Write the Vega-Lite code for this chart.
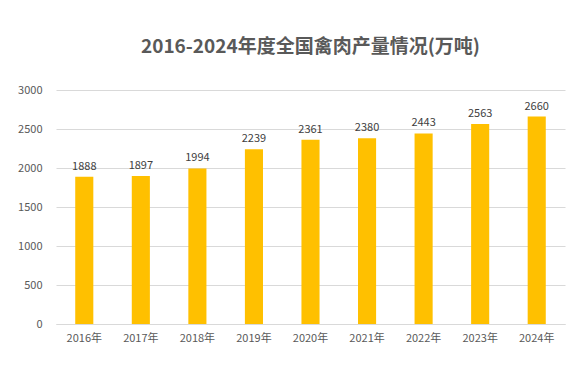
{
  "$schema": "https://vega.github.io/schema/vega-lite/v6.json",
  "autosize": {"type": "none"},
  "width": 509,
  "height": 234,
  "padding": {"left": 56, "top": 90, "right": 21, "bottom": 47},
  "background": "white",
  "title": {
    "text": "2016-2024年度全国禽肉产量情况(万吨)",
    "font": "Noto Sans CJK SC",
    "fontSize": 19,
    "fontWeight": "bold",
    "color": "#595959",
    "anchor": "middle",
    "offset": 27
  },
  "data": {
    "values": [
      {"year": "2016年", "value": 1888},
      {"year": "2017年", "value": 1897},
      {"year": "2018年", "value": 1994},
      {"year": "2019年", "value": 2239},
      {"year": "2020年", "value": 2361},
      {"year": "2021年", "value": 2380},
      {"year": "2022年", "value": 2443},
      {"year": "2023年", "value": 2563},
      {"year": "2024年", "value": 2660}
    ]
  },
  "encoding": {
    "x": {
      "field": "year",
      "type": "nominal",
      "sort": null,
      "scale": {"paddingInner": 0.68, "paddingOuter": 0.34},
      "axis": {
        "title": null,
        "labelAngle": 0,
        "ticks": false,
        "domainColor": "#d9d9d9",
        "labelColor": "#595959",
        "labelFont": "Noto Sans CJK SC",
        "labelFontSize": 11,
        "labelPadding": 8
      }
    },
    "y": {
      "field": "value",
      "type": "quantitative",
      "scale": {"domain": [0, 3000], "nice": false},
      "axis": {
        "title": null,
        "format": "d",
        "values": [0, 500, 1000, 1500, 2000, 2500, 3000],
        "domain": false,
        "ticks": false,
        "gridColor": "#d9d9d9",
        "labelColor": "#595959",
        "labelFont": "Noto Sans CJK SC",
        "labelFontSize": 11,
        "labelPadding": 14
      }
    }
  },
  "layer": [
    {"mark": {"type": "bar", "color": "#FFC000"}},
    {
      "mark": {"type": "text", "dy": -10, "color": "#404040", "font": "Noto Sans CJK SC", "fontSize": 11},
      "encoding": {"text": {"field": "value", "type": "quantitative", "format": "d"}}
    }
  ],
  "config": {"view": {"stroke": null}}
}
